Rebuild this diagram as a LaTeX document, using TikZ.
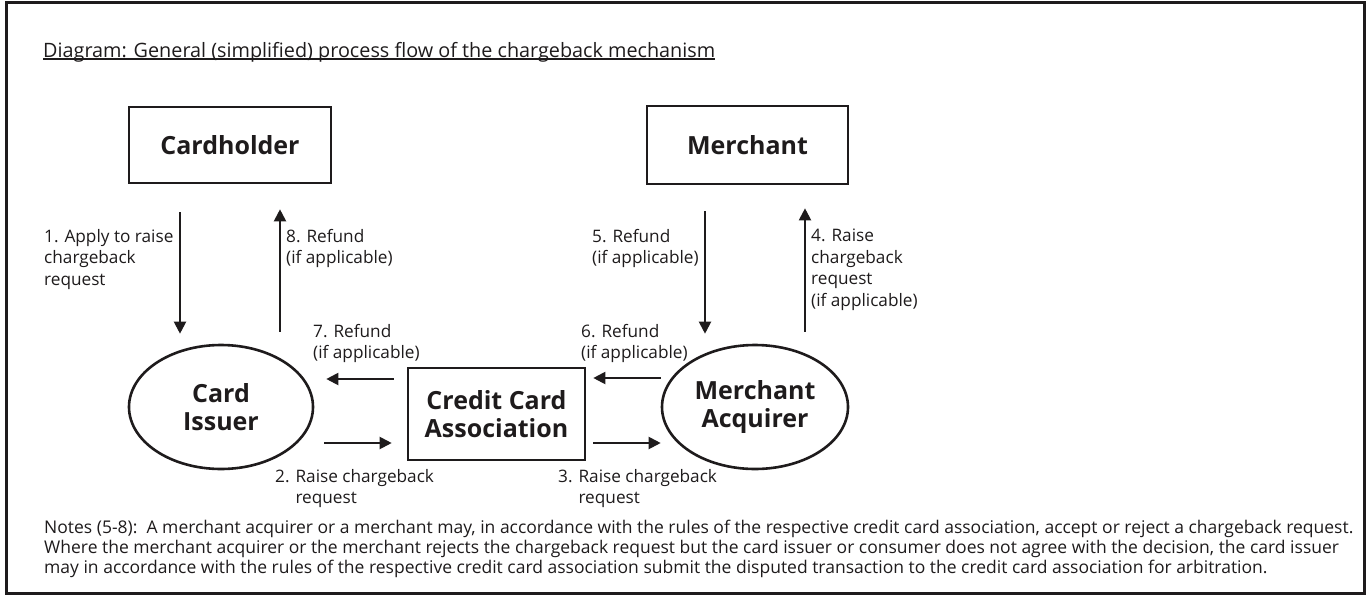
\documentclass[tikz,border=0pt]{standalone}
\usepackage{fontspec}
\setmainfont{Open Sans}
\usetikzlibrary{arrows.meta,shapes.geometric}
\definecolor{ink}{RGB}{30,27,28}

\begin{document}
\begin{tikzpicture}[x=1pt,y=-1pt,
  bx/.style={rectangle,draw=ink,line width=2.6pt,inner sep=0pt,align=center,text=ink,font=\fontsize{25}{28}\selectfont\bfseries},
  ov/.style={ellipse,draw=ink,line width=2.6pt,inner sep=0pt,align=center,text=ink,minimum width=184pt,minimum height=124pt,font=\fontsize{25}{28}\selectfont\bfseries},
  ar/.style={draw=ink,line width=2pt,-{Triangle[length=12pt,width=12pt]}},
  lb/.style={anchor=north west,inner sep=0pt,align=left,text=ink,font=\fontsize{17.2}{21.5}\selectfont},
  nt/.style={anchor=north west,inner sep=0pt,align=left,text=ink,font=\fontsize{17.5}{20}\selectfont}]
  \useasboundingbox (0,0) rectangle (1369,595);
  % frame and title
  \draw[ink,line width=3pt] (6.5,2) rectangle (1364.5,593.5);
  \node[anchor=base west,inner sep=0pt,text=ink,font=\fontsize{19.8}{22}\selectfont] (title) at (43,57)
    {Diagram: General (simplified) process flow of the chargeback mechanism};
  \draw[ink,line width=1.2pt] ([yshift=-2pt]title.base west) -- ([yshift=-2pt]title.base east);
  % parties
  \node[bx,minimum width=202pt,minimum height=76pt] (chold) at (230,145) {Cardholder};
  \node[bx,minimum width=201pt,minimum height=78pt] (merch) at (747.5,145) {Merchant};
  \node[ov] (issuer) at (221,407) {Card\\Issuer};
  \node[bx,minimum width=177pt,minimum height=92pt] (ccb) at (496.5,414) {Credit Card\\Association};
  \node[ov,minimum width=186pt] (acq) at (755,407) {Merchant\\Acquirer};
  % flows
  \draw[ar,shorten <=28pt,shorten >=10pt] ([xshift=-50pt]chold.south) -- ([xshift=-50pt]chold.south |- issuer.north);
  \draw[ar,shorten <=12pt,shorten >=25pt] ([xshift=50pt]chold.south |- issuer.north) -- ([xshift=50pt]chold.south);
  \draw[ar,shorten <=10pt,shorten >=15pt] ([yshift=-36pt]issuer.east) -- ([yshift=-36pt]issuer.east -| ccb.west);
  \draw[ar,shorten <=7pt] ([yshift=-36pt]acq.west -| ccb.east) -- ([yshift=-36pt]acq.west);
  \draw[ar,shorten <=12pt,shorten >=23pt] ([xshift=57.5pt]merch.south |- acq.north) -- ([xshift=57.5pt]merch.south);
  \draw[ar,shorten <=26pt,shorten >=10pt] ([xshift=-42.5pt]merch.south) -- ([xshift=-42.5pt]merch.south |- acq.north);
  \draw[ar,shorten >=7pt] ([yshift=29pt]acq.west) -- ([yshift=29pt]acq.west -| ccb.east);
  \draw[ar,shorten <=13pt,shorten >=12pt] ([yshift=28pt]issuer.east -| ccb.west) -- ([yshift=28pt]issuer.east);
  % flow labels
  \node[lb] (l1) at (44,229) {1. Apply to raise\\chargeback\\request};
  \node[lb] (l2) at (275,469) {2. Raise chargeback\\\phantom{2. }request};
  \node[lb] (l3) at (558,469) {3. Raise chargeback\\\phantom{3. }request};
  \node[lb] (l4) at (811,229) {4. Raise\\chargeback\\request\\(if applicable)};
  \node[lb] (l5) at (592,229) {5. Refund\\(if applicable)};
  \node[lb] (l6) at (581,324) {6. Refund\\(if applicable)};
  \node[lb] (l7) at (313,324) {7. Refund\\(if applicable)};
  \node[lb] (l8) at (286,229) {8. Refund\\(if applicable)};
  % notes
  \node[nt] (notes) at (44,520) {Notes (5-8):\ \ A merchant acquirer or a merchant may, in accordance with the rules of the respective credit card association, accept or reject a chargeback request.\\
    Where the merchant acquirer or the merchant rejects the chargeback request but the card issuer or consumer does not agree with the decision, the card issuer\\
    may in accordance with the rules of the respective credit card association submit the disputed transaction to the credit card association for arbitration.};
\end{tikzpicture}
\end{document}
